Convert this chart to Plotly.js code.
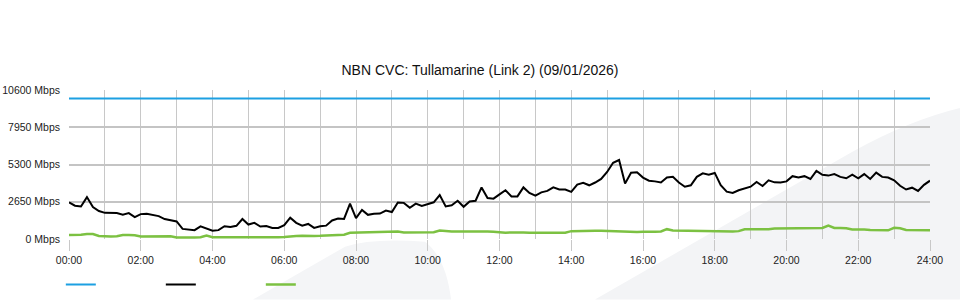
<!DOCTYPE html>
<html>
<head>
<meta charset="utf-8">
<script src="https://cdn.plot.ly/plotly-3.0.1.min.js"></script>
<style>html,body{margin:0;padding:0;background:#fff;}#chart{width:960px;height:300px;}</style>
</head>
<body>
<div id="chart"></div>
<script>
// ---- data ----
var chartTitle = "NBN CVC: Tullamarine (Link 2) (09/01/2026)";
var stepMinutes = 10;
var tickHours = [0, 2, 4, 6, 8, 10, 12, 14, 16, 18, 20, 22, 24];
var tickLabels = ["00:00","02:00","04:00","06:00","08:00","10:00","12:00","14:00","16:00","18:00","20:00","22:00","24:00"];
var yTickValues = [0, 2650, 5300, 7950, 10600];
var yTickLabels = ["0 Mbps","2650 Mbps","5300 Mbps","7950 Mbps","10600 Mbps"];
var capacityHours = [0, 24];
var capacityMbps = [10000, 10000];
var trafficMbps = [
  2600,2370,2310,2980,2270,1990,1860,1870,1850,1730,1840,1560,
  1770,1790,1690,1630,1420,1330,1250,720,660,630,900,770,
  590,630,910,850,940,1420,1030,1150,890,920,790,790,
  990,1520,1150,950,1070,790,900,950,1320,1450,1430,2520,
  1490,2070,1720,1790,1810,2020,1920,2600,2570,2220,2520,2350,
  2500,2610,3120,2320,2400,2720,2290,2670,2720,3670,2920,2870,
  3170,3470,3030,3030,3670,3270,3080,3320,3420,3670,3520,3520,
  3350,3870,3990,3820,4020,4270,4770,5420,5620,3940,4720,4750,
  4370,4150,4100,4020,4370,4420,4020,3720,3820,4420,4670,4570,
  4700,3820,3370,3270,3470,3620,3720,4060,3770,4170,4030,4020,
  4100,4470,4370,4470,4270,4850,4570,4510,4620,4420,4320,4570,
  4320,4620,4270,4720,4420,4370,4170,3790,3520,3650,3420,3850,
  4150
];
var otherMbps = [
  290,290,300,360,350,210,180,180,190,280,280,270,
  180,180,180,180,180,190,100,90,90,100,120,240,
  130,120,120,130,120,120,130,120,125,140,120,130,
  140,200,210,230,210,220,230,240,300,310,310,440,
  450,460,460,460,470,470,480,530,470,470,470,460,
  470,480,600,540,530,530,540,530,530,520,530,520,
  460,450,470,440,460,450,470,450,440,460,470,450,
  560,580,560,570,590,580,560,570,570,510,500,500,
  510,500,510,540,700,610,600,600,590,600,610,590,
  540,560,520,540,560,690,690,680,690,700,740,750,
  740,750,760,750,790,800,790,960,790,780,770,680,
  700,670,640,630,640,620,800,760,640,630,640,620,
  630
];

// sample times in hours
var hours = [];
for (var i = 0; i < trafficMbps.length; i++) hours.push(i * stepMinutes / 60);
var minorHours = [];
for (var h = 1; h < 24; h += 2) minorHours.push(h);

// ---- geometry helpers for the decorative background ----
var L = 69, R = 930, T = 90, B = 239.3;
function px(x) { return ((x - L) / (R - L)).toFixed(4); }
function py(y) { return ((B - y) / (B - T)).toFixed(4); }
function P(x, y) { return px(x) + "," + py(y); }

var bigSheet = "M" + P(595, 300) + " L" + P(852, 152) + " Q" + P(910, 120) + " " + P(960, 108) +
  " L" + P(960, 300) + " Z";
var smallSheet = "M" + P(253, 300) + " L" + P(345, 247) + " Q" + P(372, 238) + " " + P(425, 242) +
  " Q" + P(446, 258) + " " + P(451, 300) + " Z";

var traces = [
  {x: capacityHours, y: capacityMbps, type: "scatter", mode: "lines", name: " ",
   line: {color: "#1ca0e2", width: 2}, hoverinfo: "skip"},
  {x: hours, y: trafficMbps, type: "scatter", mode: "lines", name: " ",
   line: {color: "#000000", width: 2}, hoverinfo: "skip"},
  {x: hours, y: otherMbps, type: "scatter", mode: "lines", name: " ",
   line: {color: "#7cc142", width: 2.5}, hoverinfo: "skip"}
];

var gridC = "#c8c8c8";
var layout = {
  width: 960, height: 300,
  margin: {l: 69, r: 30, t: 90, b: 60.7, pad: 0, autoexpand: false},
  paper_bgcolor: "#ffffff",
  plot_bgcolor: "rgba(0,0,0,0)",
  font: {family: "Liberation Sans, Arial, sans-serif", size: 10.5, color: "#222222"},
  title: {text: chartTitle, x: 0.5, xref: "container", xanchor: "center",
          y: 0.765, yref: "container", yanchor: "middle",
          font: {family: "Liberation Sans, Arial, sans-serif", size: 14, color: "#111111"}},
  showlegend: true,
  legend: {orientation: "h", x: -0.0095, xanchor: "left", y: -0.306, yanchor: "middle",
           entrywidth: 55, entrywidthmode: "pixels", bgcolor: "rgba(0,0,0,0)",
           font: {size: 10.5}, itemclick: false, itemdoubleclick: false},
  xaxis: {range: [0, 24], tickmode: "array", tickvals: tickHours, ticktext: tickLabels,
          showgrid: true, gridcolor: gridC, gridwidth: 1, zeroline: false, showline: false,
          ticks: "outside", ticklen: 11, tickwidth: 1, tickcolor: gridC,
          minor: {tickmode: "array", tickvals: minorHours, showgrid: true, gridcolor: gridC, gridwidth: 1, ticks: ""},
          tickfont: {size: 10.5, color: "#222222"}, fixedrange: true},
  yaxis: {range: [0, 10600], tickmode: "array", tickvals: yTickValues, ticktext: yTickLabels,
          showgrid: true, gridcolor: "#c4c4c4", gridwidth: 2, zeroline: false, showline: false,
          ticks: "", ticklabelstandoff: 8,
          tickfont: {size: 10.5, color: "#222222"}, fixedrange: true},
  shapes: [
    {type: "path", xref: "paper", yref: "paper", path: bigSheet, fillcolor: "#f3f4f6",
     line: {width: 0}, layer: "below"},
    {type: "path", xref: "paper", yref: "paper", path: smallSheet, fillcolor: "#f4f5f7",
     line: {width: 0}, layer: "below"}
  ]
};

Plotly.newPlot("chart", traces, layout, {displayModeBar: false, staticPlot: true});
</script>
</body>
</html>
